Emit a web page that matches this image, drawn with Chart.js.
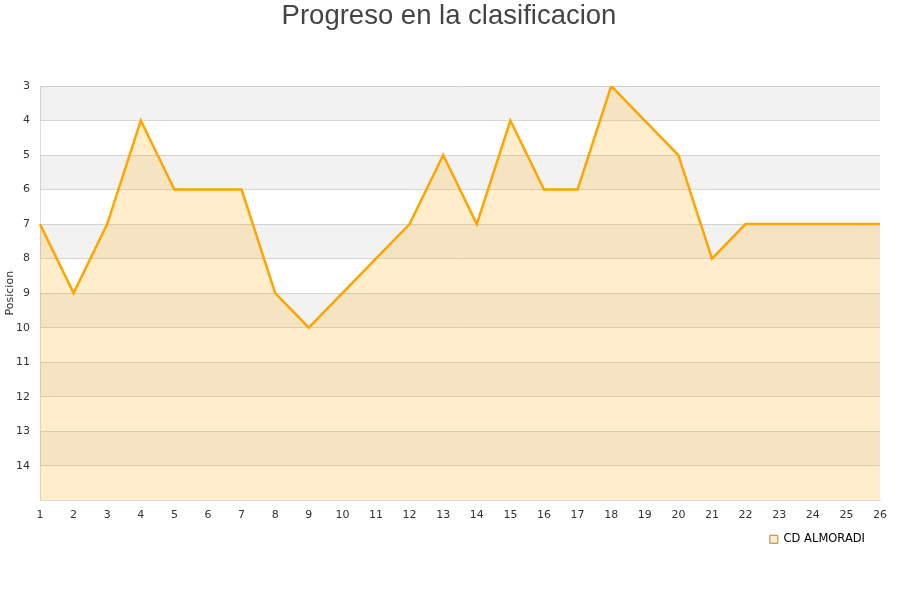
<!DOCTYPE html>
<html lang="es">
<head>
    <meta charset="UTF-8">
    <title>Progreso en la clasificacion</title>
    <script src="https://cdn.jsdelivr.net/npm/chart.js"></script>
    <style>
        html, body { margin: 0; padding: 0; background: #fff; }
        .wrap { width: 900px; height: 600px; position: relative; }
    </style>
</head>
<body>
    <div class="wrap"><canvas id="chart" width="900" height="600"></canvas></div>
    <script>
        const jornadas = ['1','2','3','4','5','6','7','8','9','10','11','12','13','14','15','16','17','18','19','20','21','22','23','24','25','26'];
        const posiciones = [7, 9, 7, 4, 6, 6, 6, 9, 10, 9, 8, 7, 5, 7, 4, 6, 6, 3, 4, 5, 8, 7, 7, 7, 7, 7];
        const equipo = 'CD ALMORADI';

        // franjas grises alternas detras de la serie
        const bandas = {
            id: 'bandas',
            beforeDatasetsDraw(chart) {
                const { ctx, chartArea, scales } = chart;
                const y = scales.y;
                ctx.save();
                ctx.fillStyle = 'rgba(0,0,0,0.05)';
                for (let v = 3; v < 15; v += 2) {
                    const a = y.getPixelForValue(v);
                    const b = y.getPixelForValue(v + 1);
                    ctx.fillRect(chartArea.left, a, chartArea.right - chartArea.left, b - a);
                }
                ctx.restore();
            }
        };

        // titulo centrado en todo el lienzo, leyenda algo separada del borde
        const ajustes = {
            id: 'ajustes',
            afterLayout(chart) {
                chart.titleBlock.right += 18;
                chart.legend.right -= 11;
            }
        };

        new Chart(document.getElementById('chart'), {
            type: 'line',
            data: {
                labels: jornadas,
                datasets: [{
                    label: equipo,
                    data: posiciones,
                    borderColor: '#FFA500',
                    backgroundColor: 'rgba(255,165,0,0.2)',
                    borderWidth: 2.5,
                    pointRadius: 0,
                    tension: 0,
                    fill: { value: 15 }
                }]
            },
            plugins: [bandas, ajustes],
            options: {
                responsive: false,
                animation: false,
                layout: { padding: { left: 0, right: 20, top: 0, bottom: 45 } },
                plugins: {
                    title: {
                        display: true,
                        text: 'Progreso en la clasificacion',
                        color: '#444',
                        font: { family: 'Liberation Sans', size: 27.5, weight: 'normal' },
                        padding: { top: 0, bottom: 53 }
                    },
                    legend: {
                        position: 'bottom',
                        align: 'end',
                        labels: {
                            color: '#111',
                            font: { family: 'DejaVu Sans', size: 11.5 },
                            boxWidth: 8,
                            boxHeight: 8,
                            padding: 4,
                            generateLabels: (chart) => [{
                                text: equipo,
                                fillStyle: 'rgba(255,165,0,0.2)',
                                strokeStyle: '#B08040',
                                lineWidth: 1,
                                datasetIndex: 0
                            }]
                        }
                    },
                    tooltip: { enabled: false }
                },
                scales: {
                    x: {
                        offset: false,
                        grid: { display: false, drawTicks: false },
                        border: { display: true, color: '#ddd' },
                        ticks: {
                            color: '#333',
                            font: { family: 'DejaVu Sans', size: 11 },
                            padding: 8,
                            maxRotation: 0,
                            autoSkip: false
                        }
                    },
                    y: {
                        reverse: true,
                        min: 3,
                        max: 15,
                        afterFit: (scale) => { scale.width = 40; },
                        grid: { color: '#ddd', drawTicks: false },
                        border: { display: true, color: '#ddd' },
                        title: {
                            display: true,
                            text: 'Posicion',
                            color: '#333',
                            font: { family: 'DejaVu Sans', size: 11 },
                            padding: { top: 4, bottom: 0 }
                        },
                        ticks: {
                            stepSize: 1,
                            color: '#333',
                            font: { family: 'DejaVu Sans', size: 11 },
                            padding: 10,
                            callback: (v) => v === 15 ? '' : v
                        }
                    }
                }
            }
        });
    </script>
</body>
</html>
